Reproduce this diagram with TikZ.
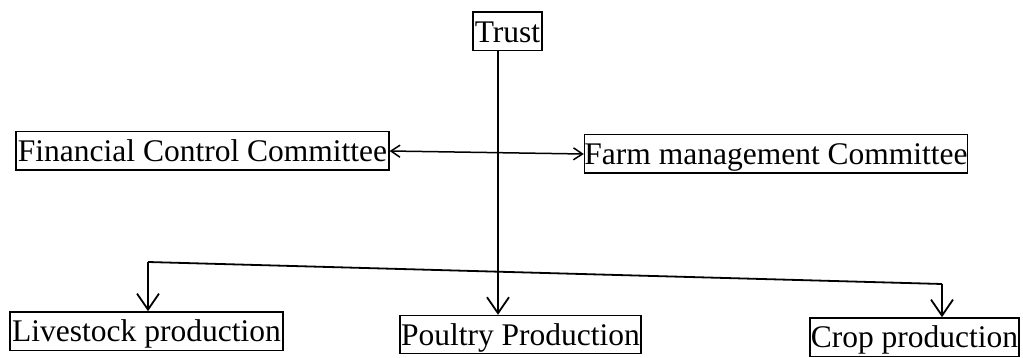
\documentclass[tikz,border=0pt]{standalone}
\usepackage{fontspec}
\setmainfont{Liberation Serif}
\usetikzlibrary{arrows.meta}
\begin{document}
\begin{tikzpicture}[x=1pt,y=-1pt,
  box/.style={draw, line width=1.3pt, inner xsep=0pt, inner ysep=0pt, text height=30pt, text depth=8.3pt, font=\fontsize{31.5}{31.5}\selectfont},
  arr/.style={line width=1.8pt, -{Straight Barb[length=16pt,width=22pt,line width=1.8pt]}},
  arrtwo/.style={line width=1.5pt, {Straight Barb[length=9pt,width=12pt,line width=1.5pt]}-{Straight Barb[length=9pt,width=12pt,line width=1.5pt]}},
  bar/.style={line width=1.8pt}]
\useasboundingbox (0,0) rectangle (1023,358);
\node[box, minimum width=69pt] (trust) at (507.5,31.2) {Trust};
\node[box, minimum width=373pt] (fin) at (202.5,151) {Financial Control Committee};
\node[box, minimum width=380pt] (farm) at (776,154) {Farm management Committee};
\node[box, minimum width=273pt] (live) at (146.5,331) {Livestock production};
\node[box, minimum width=241pt] (poul) at (520.5,334.6) {Poultry Production};
\node[box, minimum width=209pt] (crop) at (914.5,337) {Crop production};
\coordinate (L) at (148,262);
\coordinate (M) at (498,272);
\coordinate (R) at (942,284);
\draw[arrtwo] (fin.east) -- (farm.west);
\draw[bar] (L) -- (R);
\draw[arr] (trust.south -| M) -- (poul.north -| M);
\draw[arr] (L) -- (live.north -| L);
\draw[arr] (R) -- (crop.north -| R);
\end{tikzpicture}
\end{document}
